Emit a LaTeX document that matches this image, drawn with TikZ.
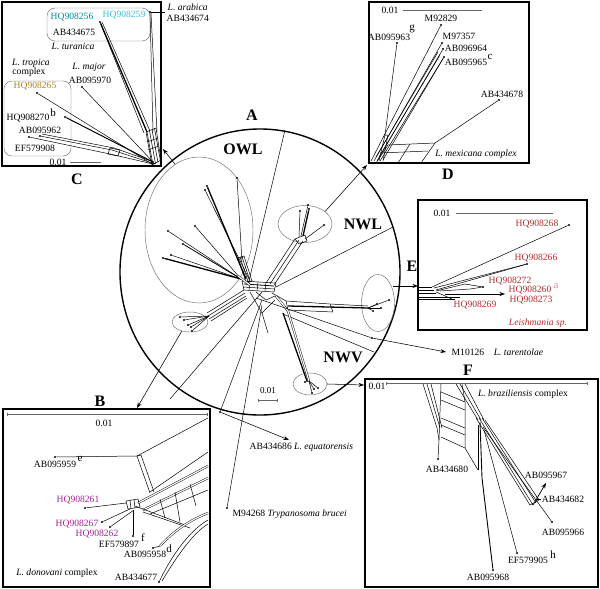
\documentclass[tikz,border=0pt]{standalone}
\usepackage{fontspec}
\setmainfont{Liberation Serif}
\usetikzlibrary{arrows.meta,shapes.geometric}
\definecolor{tealA}{RGB}{0,140,165}
\definecolor{cyanB}{RGB}{60,195,215}
\definecolor{goldC}{RGB}{175,135,35}
\definecolor{redE}{RGB}{185,45,45}
\definecolor{pinkE}{RGB}{225,145,145}
\definecolor{magB}{RGB}{165,35,155}
\definecolor{grpC}{RGB}{110,110,110}
\begin{document}
\begin{tikzpicture}[x=1pt,y=-1pt,
  box/.style={draw, line width=1.5pt, inner sep=0pt, outer sep=0pt, anchor=north west},
  lbl/.style={font=\fontsize{9.6}{11}\selectfont, inner sep=0.5pt},
  ilbl/.style={font=\fontsize{9.6}{11}\selectfont\itshape, inner sep=0.5pt},
  sup/.style={font=\fontsize{11}{12}\selectfont, inner sep=0pt},
  big/.style={font=\fontsize{16}{18}\selectfont\bfseries, inner sep=0pt},
  dot/.style={circle, fill, inner sep=0pt, minimum size=2.4pt},
  net/.style={line width=0.5pt},
  heavy/.style={line width=1.3pt},
  mid/.style={line width=0.8pt},
  dbl/.style={line width=0.45pt, double, double distance=1.2pt},
  arr/.style={-{Stealth[length=5.5pt,width=4pt]}, line width=0.55pt},
  grp/.style={draw=grpC, line width=0.45pt},
  bar/.style={line width=0.4pt, draw=black!60, {Bar[width=3pt]}-{Bar[width=3pt]}},
]
\fill[white] (0,0) rectangle (600,589);
\useasboundingbox (0,0) rectangle (600,589);

%================ Panel C
\node[box, minimum width=159pt, minimum height=164pt] (cbox) at (2,2) {};
\node[big] (Clab) at (77,179) {C};
\draw[grp, rounded corners=8pt] (47,8) rectangle (150,41);
\node[lbl, text=tealA] (c256) at (72,17) {HQ908256};
\node[lbl, text=cyanB] (c259) at (124,15) {HQ908259};
\node[lbl] (c675) at (74,32) {AB434675};
\node[ilbl] (ctur) at (73,46) {L. turanica};
\node[ilbl, anchor=west] (carab) at (167,7) {L. arabica};
\node[lbl, anchor=west] (c674) at (166,18) {AB434674};
\node[ilbl] (ctro) at (31,63) {L. tropica};
\node[lbl] (ccom) at (29,72) {complex};
\node[ilbl] (cmaj) at (89,67) {L. major};
\node[lbl] (c970) at (90,80) {AB095970};
\draw[grp, rounded corners=8pt] (4,81) rectangle (71,156);
\node[lbl, text=goldC] (c265) at (35,86) {HQ908265};
\node[lbl] (c270) at (28,118) {HQ908270};
\node[sup] (c270s) at (53,113) {b};
\node[lbl] (c962) at (40,130) {AB095962};
\node[lbl] (c908) at (35,148) {EF579908};
\node[lbl] (csc) at (58,162) {0.01};
\coordinate (cs1) at (70,162);
\coordinate (cs2) at (101,162);
\draw[line width=0.4pt, black!60] (cs1) -- (cs2);
\node[dot] (l256) at (100,22) {};
\node[dot] (larab) at (150,12) {};
\node[dot] (l970) at (82,87) {};
\node[dot] (l265) at (37,93) {};
\node[dot] (l270) at (65,117) {};
\node[dot] (l962) at (40,136) {};
\node[dot] (l908) at (29,137) {};
\coordinate (carabe) at (165,12);
\coordinate (cj) at (155,164);
\draw[net] (larab) -- (carabe);
\draw[net] (larab) -- (153,132);
\draw[net] (151,13) -- (157,132);
\draw[heavy] (l256) -- (147,132);
\draw[net] (102,22) -- (150,131);
\draw[net] (l256) -- (144,133);
\draw[net] (146,132) -- (156,128) -- (161,160) -- (152,165) -- cycle;
\foreach \k in {0,2.5,5,7.5} \draw[net] (147+\k,132-\k*0.5) -- (153+\k,165-\k*0.5);
\draw[net] (147,142) -- (158,138);
\draw[net] (148,150) -- (159,146);
\draw[net] (l970) -- (cj);
\draw[net] (l265) -- (152,164);
\draw[line width=1pt] (l270) -- (153,162);
\draw[net] (l962) -- (112,150) -- (cj);
\draw[net] (l908) -- (110,154) -- (153,164);
\draw[net] (42,134) -- (114,148) -- (154,162);
\draw[net] (110,148) -- (120,150) -- (118,156) -- (108,154) -- cycle;

%================ Panel D
\node[box, minimum width=160pt, minimum height=161pt] (dbox) at (369,2) {};
\node[big] (Dlab) at (448,174) {D};
\node[lbl] (dsc) at (390,10) {0.01};
\coordinate (ds1) at (403,10);
\coordinate (ds2) at (482,10);
\draw[line width=0.4pt, black!60] (ds1) -- (ds2);
\node[lbl] (d829) at (441,18) {M92829};
\node[lbl] (d963) at (389,37) {AB095963};
\node[sup] (d963s) at (412,29) {g};
\node[lbl] (d357) at (459,36) {M97357};
\node[lbl] (d964) at (466,48) {AB096964};
\node[lbl] (d965) at (466,62) {AB095965};
\node[sup] (d965s) at (490,57) {c};
\node[lbl] (d678) at (502,94) {AB434678};
\node[ilbl] (dmex) at (476,154) {L. mexicana complex};
\node[dot] (l963) at (397,43) {};
\node[dot] (l829) at (441,25) {};
\node[dot] (l357) at (442,43) {};
\node[dot] (l964) at (443,49) {};
\node[dot] (l965) at (444,57) {};
\node[dot] (l678) at (499,100) {};
\draw[net] (371,161) -- (l829);
\draw[net] (374,161) -- (l357);
\draw[net] (377,161) -- (l964);
\draw[net] (380,161) -- (l965);
\draw[net] (383,160) -- (l965);
\draw[net] (376,157) -- (438,52);
\draw[net] (379,157) -- (440,55);
\draw[net] (385,135) -- (l963);
\draw[net] (379,161) -- (385,135) -- (388,135) -- (383,161);
\coordinate (dg1) at (388,145);
\coordinate (dg2) at (435,143);
\draw[net] (dg1) -- (dg2) -- (l678);
\draw[net] (380,153) -- (428,151);
\draw[net] (dg1) -- (376,163);
\draw[net] (410,144) -- (398,163);
\draw[net] (dg2) -- (421,163);

%================ Panel E
\node[box, minimum width=169pt, minimum height=130pt] (ebox) at (418,200) {};
\node[big] (Elab) at (412,266) {E};
\node[lbl] (esc) at (442,213) {0.01};
\coordinate (es1) at (456,213);
\coordinate (es2) at (553,213);
\draw[line width=0.4pt, black!60] (es1) -- (es2);
\node[lbl, text=redE] (e268) at (537,224) {HQ908268};
\node[lbl, text=redE] (e266) at (536,258) {HQ908266};
\node[lbl, text=redE] (e272) at (510,281) {HQ908272};
\node[lbl, text=redE] (e260) at (530,290) {HQ908260};
\node[sup, text=pinkE] (e260s) at (556,286) {a};
\node[lbl, text=redE] (e273) at (531,300) {HQ908273};
\node[lbl, text=redE] (e269) at (475,305) {HQ908269};
\node[ilbl, text=redE] (esp) at (538,323) {Leishmania sp.};
\node[dot] (l268) at (569,225) {};
\node[dot] (l266) at (527,264) {};
\node[dot] (l272) at (483,287) {};
\coordinate (l260) at (505,294);
\coordinate (l269) at (452,299);
\draw[net] (419,287) -- (432,287);
\draw[net] (419,290) -- (434,290);
\draw[net] (419,293) -- (436,293);
\draw[net] (419,297) -- (460,297);
\draw[net] (419,299.5) -- (455,299.5);
\draw[net] (432,287) -- (l268);
\draw[net] (434,288) -- (l266);
\draw[net] (436,290) -- (l266);
\draw[net] (436,291) -- (465,284) -- (l272);
\draw[net] (440,291) -- (470,289) -- (l272);
\draw[arr, line width=0.45pt] (445,294) -- (l260);
\draw[net] (436,292) -- (l269);

%================ Panel F
\node[box, minimum width=233pt, minimum height=208pt] (fbox) at (365,379) {};
\node[big] (Flab) at (468,370) {F};
\node[lbl] (fsc) at (377,386) {0.01};
\coordinate (fs1) at (386,383);
\coordinate (fs2) at (587,383);
\draw[bar] (fs1) -- (fs2);
\node[lbl] (fbraz) at (523,394) {\itshape L. braziliensis\upshape{} complex};
\node[lbl] (f680) at (447,469) {AB434680};
\node[lbl] (f967) at (546,475) {AB095967};
\node[lbl] (f682) at (563,499) {AB434682};
\node[lbl] (f966) at (563,532) {AB095966};
\node[lbl] (f905) at (528,560) {EF579905};
\node[sup] (f905s) at (553,555) {h};
\node[lbl] (f968) at (488,577) {AB095968};
\node[dot] (l680) at (438,459) {};
\node[dot] (l966) at (552,522) {};
\node[dot] (l905) at (517,553) {};
\node[dot] (l968) at (493,570) {};
\coordinate (l967) at (546,483);
\coordinate (l682) at (541,499);
\draw[net] (423,384) -- (437,428);
\draw[net] (427,384) -- (440,428);
\draw[net] (431,384) -- (442,428);
\draw[net] (441,384) -- (439,440) -- (l680);
\draw[net] (437,428) -- (439,440);
\draw[net] (441,392) -- (465,402);
\draw[net] (441,400) -- (465,410);
\draw[net] (441,418) -- (465,428);
\draw[net] (441,425) -- (465,435);
\draw[net] (441,437) -- (465,448);
\draw[net] (462,384) -- (465,402) -- (465,448) -- (478,470);
\draw[net] (456,384) -- (478,420);
\draw[net] (460,384) -- (481,420);
\draw[net] (465,384) -- (484,420);
\draw[net] (476,418) -- (530,505);
\draw[net] (479,418) -- (533,505);
\draw[net] (482,418) -- (536,503);
\draw[net] (485,420) -- (539,500);
\draw[net] (530,505) -- (539,500) -- (536,496);
\draw[line width=0.9pt] (480,422) -- (482,478) -- (l968);
\draw[net] (478,425) -- (478,470);
\draw[net] (484,430) -- (l905);
\draw[net] (483,427) -- (l966);
\draw[arr, line width=0.7pt] (533,505) -- (l967);
\draw[net] (537,499) -- (l682);

%================ Panel B
\node[box, minimum width=207pt, minimum height=178pt] (bbox) at (3,409) {};
\node[big] (Blab) at (100,401) {B};
\coordinate (bs1) at (7,414);
\coordinate (bs2) at (207,414);
\draw[bar] (bs1) -- (bs2);
\node[lbl] (bsc) at (104,423) {0.01};
\node[dot] (l959) at (55,457) {};
\node[lbl] (b959) at (55,464) {AB095959};
\node[sup] (b959s) at (80,459) {e};
\node[lbl, text=magB] (b261) at (78,500) {HQ908261};
\node[dot] (l261) at (85,508) {};
\node[lbl, text=magB] (b267) at (77,524) {HQ908267};
\node[dot] (l267) at (102,522) {};
\node[lbl, text=magB] (b262) at (97,534) {HQ908262};
\node[dot] (l262) at (110,527) {};
\node[lbl] (b897) at (119,544) {EF579897};
\node[sup] (b897s) at (143,538) {f};
\node[dot] (l897) at (133,536) {};
\node[lbl] (b958) at (145,554) {AB095958};
\node[sup] (b958s) at (169,549) {d};
\node[dot] (l958) at (153,548) {};
\node[lbl] (bdon) at (57,573) {\itshape L. donovani\upshape{} complex};
\node[lbl] (b677) at (136,577) {AB434677};
\node[dot] (l677) at (159,582) {};
\coordinate (bj1) at (137,456);
\coordinate (btr) at (208,418);
\draw[net] (btr) -- (bj1);
\draw[net] (l959) -- (bj1);
\draw[net] (bj1) -- (141,455);
\draw[net] (bj1) -- (150,493);
\draw[net] (141,455) -- (154,492);
\draw[net] (208,452) -- (150,492);
\draw[dbl] (208,466) -- (138,503);
\draw[dbl] (208,478) -- (143,510);
\draw[net] (208,490) -- (150,514);
\draw[net] (135,506) -- (185,525);
\draw[net] (143,512) -- (190,528);
\draw[net] (160,499) -- (165,518);
\draw[net] (175,492) -- (180,522);
\draw[net] (190,484) -- (196,506);
\draw[dbl] (208,513) .. controls (185,522) and (170,535) .. (160,546);
\draw[net] (160,546) -- (l958);
\draw[net] (208,520) .. controls (190,530) and (172,555) .. (l677);
\draw[net] (208,524) .. controls (193,533) and (177,556) .. (162,581);
\draw[net] (126,501) -- (138,499) -- (140,507) -- (128,509) -- cycle;
\draw[net] (130,500) -- (131,508.5);
\draw[net] (134,499.5) -- (135,508);
\draw[net] (l261) -- (126,503);
\draw[net] (l267) -- (130,509);
\draw[net] (l262) -- (134,510);
\draw[net] (133,510) -- (l897);

%================ Panel A (circle)
\node[draw, ellipse, line width=1.4pt, minimum width=280pt, minimum height=286pt, inner sep=0pt] (circ) at (260,272) {};
\node[big] (Alab) at (252,115) {A};
\node[big] (owllab) at (243,149) {OWL};
\node[big] (nwllab) at (363,224) {NWL};
\node[big] (nwvlab) at (343,357) {NWV};
\node[lbl, font=\fontsize{9}{10}\selectfont] (asc) at (268,391) {0.01};
\coordinate (as1) at (258,400);
\coordinate (as2) at (277,400);
\draw[bar] (as1) -- (as2);
\node[grp, ellipse, minimum width=108pt, minimum height=146pt, inner sep=0pt] (owl) at (199,230) {};
\node[grp, ellipse, minimum width=54pt, minimum height=37pt, inner sep=0pt] (nwl) at (305,224) {};
\node[grp, ellipse, minimum width=33pt, minimum height=57pt, inner sep=0pt] (eell) at (378,303) {};
\node[grp, ellipse, minimum width=36pt, minimum height=20pt, inner sep=0pt] (bell) at (190,322) {};
\node[grp, ellipse, minimum width=34pt, minimum height=22pt, inner sep=0pt] (nwv) at (310,384) {};

% spokes
\coordinate (sp1) at (285,130);
\coordinate (sp2) at (393,227);
\coordinate (sp3) at (170,399);
\coordinate (sp4) at (374,352);
\draw[net] (248,285) -- (sp1);
\draw[net] (276,287) -- (sp2);
\draw[net] (262,292) -- (sp3);
\draw[net] (283,314) -- (sp4);
% core
\draw[net] (242,281) -- (276,283) -- (274,292) -- (244,290) -- cycle;
\draw[mid] (244,284) -- (274,286);
\draw[net] (243,287) -- (275,289);
\draw[net] (250,281) -- (249,290);
\draw[net] (258,282) -- (257,291);
\draw[net] (266,282) -- (265,291);
\draw[net] (250,292) -- (262,313) -- (268,333);
\draw[net] (262,313) -- (275,300);
\draw[net] (256,292) -- (266,300) -- (275,296);
% OWL
\node[dot] (o1) at (207,186) {};
\node[dot] (o2) at (205,190) {};
\node[dot] (o3) at (237,178) {};
\node[dot] (o4) at (168,231) {};
\node[dot] (o5) at (195,226) {};
\node[dot] (o6) at (183,244) {};
\node[dot] (o7) at (163,258) {};
\node[dot] (o8) at (171,255) {};
\coordinate (oj) at (241,279);
\draw[heavy] (246,279) -- (o1);
\draw[net] (249,279) -- (o2);
\draw[net] (242,262) -- (o3);
\draw[net] (oj) -- (o4);
\draw[net] (oj) -- (o5);
\draw[mid] (oj) -- (o6);
\draw[heavy] (oj) -- (o7);
\draw[net] (oj) -- (o8);
\draw[net] (238,258) -- (244,256) -- (252,281) -- (246,282) -- cycle;
\draw[net] (240,257) -- (248,281.5);
\draw[net] (242,256.5) -- (250,281);
\draw[dbl] (238,276) -- (250,285);
% NWL
\node[dot] (n1) at (309,209) {};
\node[dot] (n2) at (308,205) {};
\node[dot] (n3) at (300,211) {};
\node[dot] (n4) at (324,225) {};
\draw[net] (266,283) -- (295,239);
\draw[net] (270,284) -- (299,240);
\draw[net] (274,285) -- (303,241);
\draw[net] (295,239) -- (305,235) -- (307,241) -- (299,244) -- cycle;
\draw[heavy] (303,236) -- (n1);
\draw[net] (301,236) -- (n2);
\draw[net] (299,237) -- (n3);
\draw[net] (305,239) -- (n4);
% E branch
\coordinate (ej2) at (368,308);
\draw[net] (272,293) -- (286,301) -- (330,304) -- (368,306);
\draw[heavy] (288,306) -- (ej2);
\draw[net] (275,296) -- (288,310) -- (333,312);
\draw[net] (286,301) -- (288,310);
\draw[net] (330,304) -- (333,312);
\node[dot] (e1) at (389,300) {};
\node[dot] (e2) at (377,304) {};
\node[dot] (e3) at (381,308) {};
\node[dot] (e4) at (373,311) {};
\draw[net] (ej2) -- (e1);
\draw[net] (ej2) -- (e2);
\draw[net] (ej2) -- (e3);
\draw[net] (ej2) -- (e4);
% NWV branch
\coordinate (vj) at (309,381);
\draw[dbl] (276,296) -- (288,311) -- (vj);
\draw[heavy] (283,313) -- (307,381);
\node[dot] (v1) at (305,382) {};
\node[dot] (v2) at (318,388) {};
\node[dot] (v3) at (312,393) {};
\node[dot] (v4) at (314,389) {};
\draw[net] (vj) -- (v1);
\draw[net] (vj) -- (v2);
\draw[net] (vj) -- (v3);
\draw[net] (vj) -- (v4);
% B branch
\coordinate (bj) at (209,316);
\draw[net] (244,290) -- (207,313);
\draw[net] (245,293) -- (208,316);
\draw[net] (246,296) -- (209,319);
\draw[net] (247,298) -- (211,321);
\node[dot] (b1) at (180,317) {};
\node[dot] (b2) at (184,320) {};
\node[dot] (b3) at (188,325) {};
\node[dot] (b4) at (191,327) {};
\node[dot] (b5) at (192,331) {};
\draw[net] (bj) -- (b1);
\draw[net] (bj) -- (b2);
\draw[net] (bj) -- (b3);
\draw[net] (bj) -- (b4);
\draw[net] (bj) -- (b5);

% outgroups
\node[dot] (ltar) at (372,338) {};
\node[lbl, anchor=west] (ttar) at (451,352) {M10126\quad{\itshape L. tarentolae}};
\coordinate (ttarin) at (446,352);
\draw[net] (256,298) -- (ltar);
\draw[arr] (ltar) -- (ttarin);
\node[dot] (leq) at (220,412) {};
\node[lbl, anchor=west] (teq) at (249,447) {AB434686 {\itshape L. equatorensis}};
\coordinate (teqin) at (289,440);
\draw[net] (262,300) -- (leq);
\draw[arr] (leq) -- (teqin);
\node[dot] (ltb) at (227,508) {};
\node[lbl, anchor=west] (ttb) at (232,514) {M94268 {\itshape Trypanosoma brucei}};
\draw[net] (262,305) -- (ltb);

% arrows to panels
\coordinate (cin) at (163,149);
\coordinate (din) at (367,165);
\coordinate (bin) at (137,408);
\coordinate (fin) at (364,385);
\coordinate (eout) at (393,286);
\coordinate (ein) at (418,286);
\draw[arr] (owl.110) -- (cin);
\draw[arr] (nwl.32) -- (din);
\draw[arr] (eout) -- (ein);
\draw[arr] (bell.228) -- (bin);
\draw[arr] (nwv.east) -- (fin);
\end{tikzpicture}
\end{document}
